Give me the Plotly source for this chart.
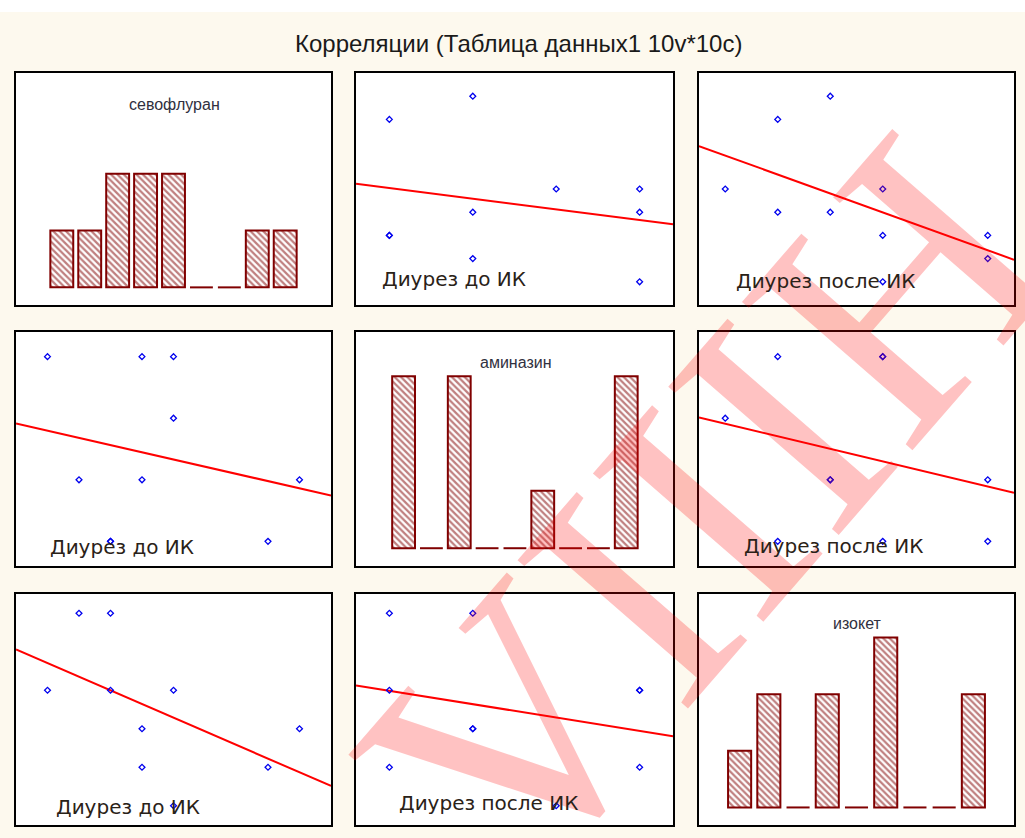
import numpy as np
import plotly.graph_objects as go

# ---- data: 10 cases, 3 variables ----
var_names = ["севофлуран", "аминазин", "изокет"]
case_sevoflurane = [4, 7, 8, 3, 3, 4, 2, 2, 1, 0]
case_aminazine = [2, 0, 1, 3, 1, 3, 0, 0, 1, 3]
case_isoket = [0, 1, 2, 1, 2, 3, 3, 5, 5, 3]

# histogram counts (9 bins per variable)
hist_sevoflurane = [1, 1, 2, 2, 2, 0, 0, 1, 1]
hist_aminazine = [3, 0, 3, 0, 0, 1, 0, 0, 3]
hist_isoket = [1, 2, 0, 2, 0, 3, 0, 0, 2]

cell_captions = [
    [None, "Диурез до ИК", "Диурез после ИК"],
    ["Диурез до ИК", None, "Диурез после ИК"],
    ["Диурез до ИК", "Диурез после ИК", None],
]
title_text = "Корреляции (Таблица данных1 10v*10c)"
watermark_text = "VIIIH"

# ---- layout geometry (pixels) ----
W, H = 1025, 838
COLS = [(15, 332), (355, 674), (698, 1015)]
ROWS = [(72, 306), (331, 567), (593, 826)]
SCATTER_RANGES = [[-1, 9], [-0.4, 3.4], [-0.5, 5.5]]
HIST_XRANGES = [[-1.64, 9.64], [-1.71, 9.68], [-1.39, 9.39]]
HIST_YRANGE = [-0.31, 3.77]
BAR_WIDTHS = [0.82, 0.82, 0.79]
DIAG_LABEL_POS = [(174, 104), (516, 363), (857, 623)]
CAPTION_POS = {(0, 1): (454, 279), (0, 2): (825, 281), (1, 0): (122, 547),
               (1, 2): (833, 546), (2, 0): (128, 807), (2, 1): (488, 803)}

BG = "#fdf9ee"
DARK_RED = "#800000"


def fx(px):
    return px / W


def fy(py):
    return 1 - py / H


def label(px, py, text, font, **kw):
    return dict(x=fx(px), y=fy(py), xref="paper", yref="paper",
                xanchor="center", yanchor="middle", text=text,
                showarrow=False, font=font, **kw)


columns = [case_sevoflurane, case_aminazine, case_isoket]
hists = [hist_sevoflurane, hist_aminazine, hist_isoket]

fig = go.Figure()
layout = dict(
    width=W, height=H,
    margin=dict(l=0, r=0, t=0, b=0),
    paper_bgcolor=BG, plot_bgcolor="white",
    showlegend=False,
    shapes=[], annotations=[],
)

# faint watermark lettering running diagonally across the page
layout["annotations"].append(label(
    705, 512, watermark_text,
    dict(family="Liberation Serif", size=345, color="rgba(255,0,0,0.24)"),
    textangle=-49))

for r in range(3):
    for c in range(3):
        k = r * 3 + c + 1
        xa, ya = f"xaxis{k}", f"yaxis{k}"
        xr, yr = f"x{k}", f"y{k}"
        axis_common = dict(showgrid=False, zeroline=False, showticklabels=False,
                           ticks="", showline=True, mirror=True,
                           linecolor="black", linewidth=2, fixedrange=True)
        x0, x1 = COLS[c]
        y0, y1 = ROWS[r]
        if r == c:
            xrange_, yrange_ = HIST_XRANGES[c], HIST_YRANGE
        else:
            xrange_, yrange_ = SCATTER_RANGES[c], SCATTER_RANGES[r]
        layout[xa] = dict(axis_common, domain=[fx(x0 + 1), fx(x1 - 1)],
                          range=xrange_, anchor=yr)
        layout[ya] = dict(axis_common, domain=[fy(y1 - 1), fy(y0 + 1)],
                          range=yrange_, anchor=xr)

        if r == c:
            counts = np.array(hists[c])
            bins = np.arange(len(counts))
            filled = counts > 0
            fig.add_trace(go.Bar(
                x=bins[filled], y=counts[filled], width=BAR_WIDTHS[c],
                xaxis=xr, yaxis=yr,
                marker=dict(color="white",
                            line=dict(color=DARK_RED, width=2),
                            pattern=dict(shape="\\", fgcolor=DARK_RED,
                                         bgcolor="white", size=4.5,
                                         solidity=0.5)),
            ))
            # empty bins are shown as a flat outline on the baseline
            ex, ey = [], []
            for b in bins[~filled]:
                ex += [b - BAR_WIDTHS[c] / 2, b + BAR_WIDTHS[c] / 2, None]
                ey += [0, 0, None]
            fig.add_trace(go.Scatter(x=ex, y=ey, mode="lines", xaxis=xr,
                                     yaxis=yr, line=dict(color=DARK_RED, width=2)))
            lx, ly = DIAG_LABEL_POS[c]
            layout["annotations"].append(label(
                lx, ly, var_names[c],
                dict(family="Liberation Sans", size=16, color="#303040")))
        else:
            xs = np.array(columns[c], dtype=float)
            ys = np.array(columns[r], dtype=float)
            slope, icpt = np.polyfit(xs, ys, 1)
            lx = np.array(SCATTER_RANGES[c], dtype=float)
            fig.add_trace(go.Scatter(x=lx, y=slope * lx + icpt, mode="lines",
                                     xaxis=xr, yaxis=yr,
                                     line=dict(color="#ff0000", width=2)))
            fig.add_trace(go.Scatter(x=xs, y=ys, mode="markers",
                                     xaxis=xr, yaxis=yr,
                                     marker=dict(symbol="diamond-open", size=4.5,
                                                 color="#0000ee",
                                                 line=dict(width=1.3, color="#0000ee"))))
            cx, cy = CAPTION_POS[(r, c)]
            layout["annotations"].append(label(
                cx, cy, cell_captions[r][c],
                dict(family="DejaVu Sans", size=20, color="#2a2218")))

# white strip along the top edge of the page
layout["shapes"].append(dict(type="rect", xref="paper", yref="paper",
                             x0=0, x1=1, y0=fy(12), y1=1,
                             fillcolor="white", line=dict(width=0), layer="below"))

layout["annotations"].append(label(
    518, 44, title_text,
    dict(family="Liberation Sans", size=24, color="#1a1a1a")))

fig.update_layout(**layout)
fig.write_html("out.html")
